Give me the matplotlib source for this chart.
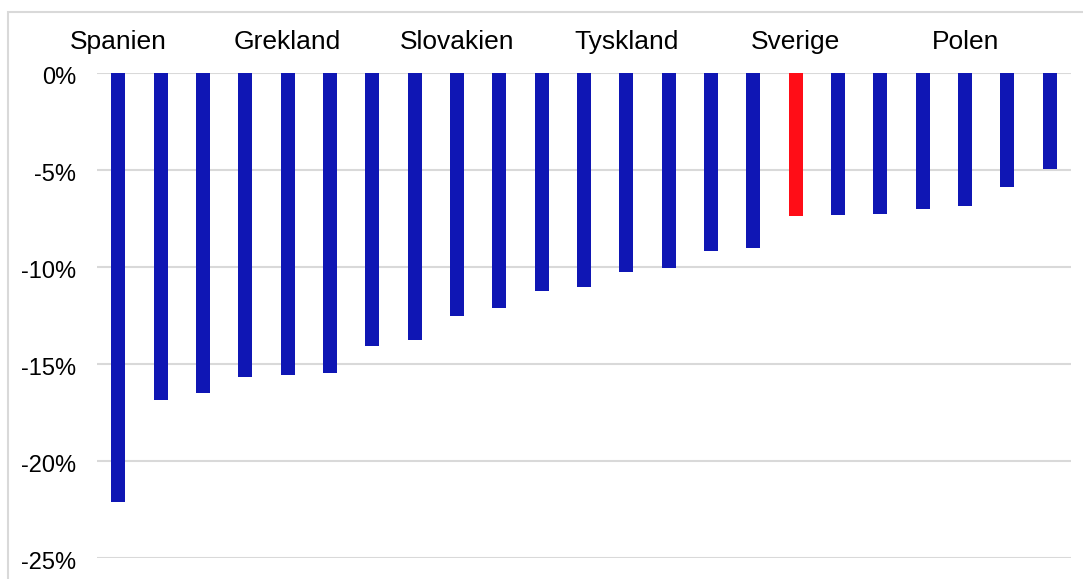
import matplotlib.pyplot as plt
from matplotlib.patches import Rectangle
from matplotlib.transforms import ScaledTranslation

# Values (percent change), sorted largest drop first
categories = ['Spanien', '', '', '', 'Grekland', '', '', '', 'Slovakien', '', '', '',
              'Tyskland', '', '', '', 'Sverige', '', '', '', 'Polen', '', '']
values = [-22.15, -16.9, -16.5, -15.67, -15.57, -15.5, -14.08, -13.77, -12.53, -12.12,
          -11.25, -11.04, -10.3, -10.06, -9.19, -9.03, -7.37, -7.32, -7.28, -7.02,
          -6.87, -5.89, -4.97]
highlight = 'Sverige'
yticks = [0, -5, -10, -15, -20, -25]

plt.rcParams['font.family'] = ['Liberation Sans', 'DejaVu Sans']

fig = plt.figure(figsize=(10.83, 5.79), dpi=100)
ax = fig.add_axes([97 / 1083, 1 - 557.7 / 579, 974 / 1083, 485.2 / 579])

colors = ['#ff0d17' if c == highlight else '#0f16b4' for c in categories]
x = list(range(len(values)))
ax.bar(x, values, width=0.33, color=colors, zorder=3)

ax.set_xlim(-0.5, len(values) - 0.5)
ax.set_ylim(-25, 0)
ax.set_yticks(yticks)
ax.set_yticklabels([f'{t}%' for t in yticks], fontsize=17)
ax.tick_params(axis='y', length=0, pad=15)
# labels sit a touch below their gridline in the original
shift = ScaledTranslation(0, -3 / 100, fig.dpi_scale_trans)
for lab in ax.get_yticklabels():
    lab.set_transform(lab.get_transform() + shift)
ax.set_xticks([])
ax.grid(axis='y', color='#d9d9d9', linewidth=1.5, zorder=0)
for s in ax.spines.values():
    s.set_visible(False)

# country names above the bars
for i, name in enumerate(categories):
    if name:
        ax.text(i, 1.063, name, transform=ax.get_xaxis_transform(),
                ha='center', va='center', fontsize=19)

# light frame around the chart (cropped on the right and bottom)
fig.patches.append(Rectangle((8 / 1083, -0.1), 1.2, 1 - 12 / 579 + 0.1,
                             transform=fig.transFigure, fill=False,
                             edgecolor='#d9d9d9', linewidth=1.5))

fig.savefig('out.png', dpi=100)
